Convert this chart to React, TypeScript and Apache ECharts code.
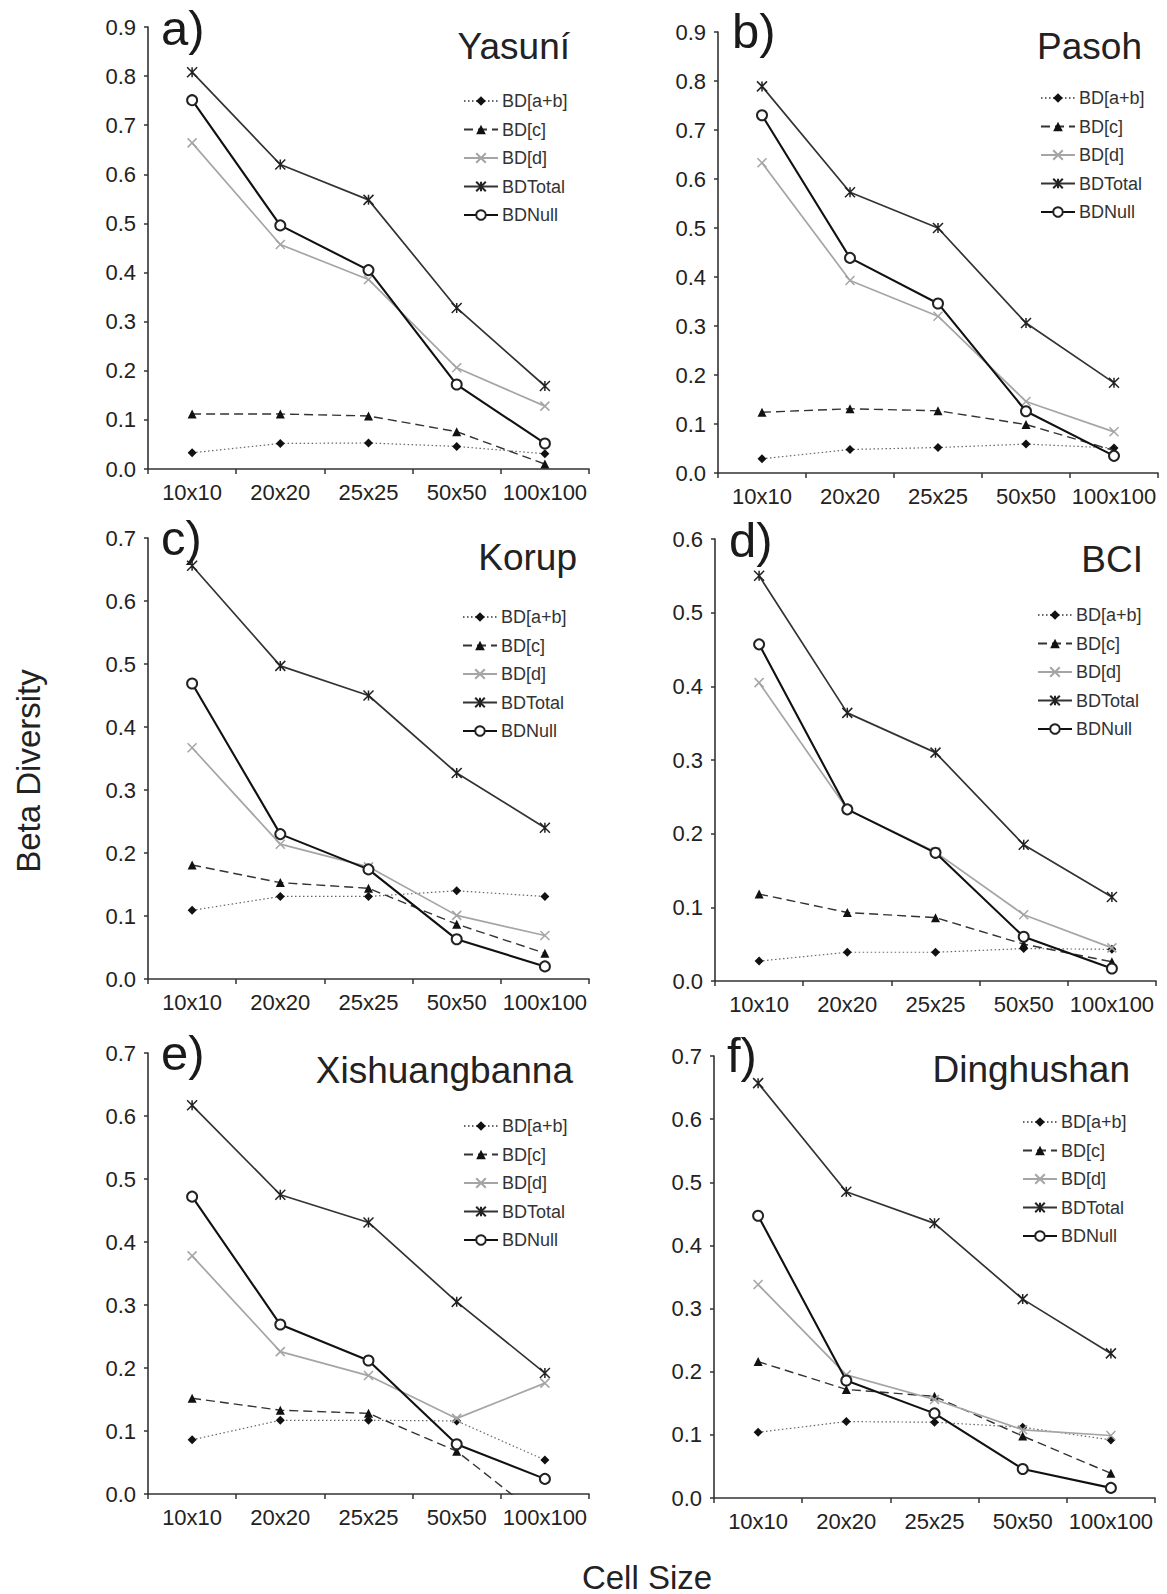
import React, { useEffect, useRef } from "react";
import * as echarts from "echarts";

// ---------- data ----------
const categories = ["10x10", "20x20", "25x25", "50x50", "100x100"];
const seriesNames = ["BD[a+b]", "BD[c]", "BD[d]", "BDTotal", "BDNull"];

const yasuniAB = [0.033, 0.052, 0.053, 0.046, 0.031];
const yasuniC = [0.112, 0.112, 0.108, 0.076, 0.01];
const yasuniD = [0.664, 0.457, 0.386, 0.206, 0.128];
const yasuniTotal = [0.808, 0.62, 0.548, 0.328, 0.169];
const yasuniNull = [0.751, 0.496, 0.405, 0.172, 0.052];

const pasohAB = [0.029, 0.048, 0.052, 0.059, 0.051];
const pasohC = [0.124, 0.131, 0.127, 0.099, 0.046];
const pasohD = [0.633, 0.393, 0.32, 0.146, 0.084];
const pasohTotal = [0.789, 0.573, 0.5, 0.306, 0.184];
const pasohNull = [0.73, 0.439, 0.346, 0.126, 0.035];

const korupAB = [0.109, 0.131, 0.131, 0.14, 0.131];
const korupC = [0.181, 0.153, 0.144, 0.087, 0.041];
const korupD = [0.367, 0.214, 0.178, 0.101, 0.069];
const korupTotal = [0.656, 0.497, 0.45, 0.327, 0.24];
const korupNull = [0.469, 0.23, 0.174, 0.063, 0.02];

const bciAB = [0.027, 0.039, 0.039, 0.044, 0.043];
const bciC = [0.118, 0.093, 0.086, 0.05, 0.026];
const bciD = [0.405, 0.233, 0.175, 0.09, 0.045];
const bciTotal = [0.55, 0.364, 0.31, 0.185, 0.114];
const bciNull = [0.457, 0.233, 0.174, 0.06, 0.017];

const xishAB = [0.086, 0.117, 0.117, 0.116, 0.054];
const xishC = [0.152, 0.133, 0.128, 0.068, -0.042];
const xishD = [0.378, 0.226, 0.188, 0.12, 0.176];
const xishTotal = [0.617, 0.475, 0.431, 0.305, 0.192];
const xishNull = [0.472, 0.269, 0.212, 0.079, 0.024];

const dingAB = [0.104, 0.121, 0.12, 0.112, 0.092];
const dingC = [0.216, 0.172, 0.161, 0.098, 0.039];
const dingD = [0.338, 0.195, 0.156, 0.108, 0.099];
const dingTotal = [0.657, 0.485, 0.435, 0.315, 0.229];
const dingNull = [0.447, 0.186, 0.134, 0.046, 0.016];

const panelTitles = ["Yasuní", "Pasoh", "Korup", "BCI", "Xishuangbanna", "Dinghushan"];
const panelLetters = ["a)", "b)", "c)", "d)", "e)", "f)"];
const panelMax = [0.9, 0.9, 0.7, 0.6, 0.7, 0.7];
const panelData = [
  [yasuniAB, yasuniC, yasuniD, yasuniTotal, yasuniNull],
  [pasohAB, pasohC, pasohD, pasohTotal, pasohNull],
  [korupAB, korupC, korupD, korupTotal, korupNull],
  [bciAB, bciC, bciD, bciTotal, bciNull],
  [xishAB, xishC, xishD, xishTotal, xishNull],
  [dingAB, dingC, dingD, dingTotal, dingNull],
];

// ---------- layout ----------
const layout = [
  { grid: { left: 148, top: 27, width: 441, height: 442 }, legend: [463, 92], letter: [161, 45], title: [570, 59] },
  { grid: { left: 718, top: 32, width: 440, height: 441 }, legend: [1040, 89], letter: [732, 48], title: [1142, 59] },
  { grid: { left: 148, top: 538, width: 441, height: 441 }, legend: [462, 608], letter: [161, 555], title: [577, 570] },
  { grid: { left: 715, top: 539, width: 441, height: 442 }, legend: [1037, 606], letter: [729, 557], title: [1143, 572] },
  { grid: { left: 148, top: 1053, width: 441, height: 441 }, legend: [463, 1117], letter: [161, 1070], title: [573, 1083] },
  { grid: { left: 714, top: 1056, width: 441, height: 442 }, legend: [1022, 1113], letter: [727, 1072], title: [1130, 1082] },
];

const FONT = "'Liberation Sans', Arial, Helvetica, sans-serif";
const AXIS_COLOR = "#333";
const X_PATH = "path://M0,0L10,10M10,0L0,10";
const STAR_PATH = "path://M0,0L10,10M10,0L0,10M5,0L5,10";

const seriesStyles = [
  {
    symbol: "diamond",
    symbolSize: 9,
    lineStyle: { color: "#666", width: 1.2, type: [1.5, 2.5] },
    itemStyle: { color: "#111" },
  },
  {
    symbol: "triangle",
    symbolSize: 9,
    lineStyle: { color: "#333", width: 1.4, type: [9, 5] },
    itemStyle: { color: "#111" },
  },
  {
    symbol: X_PATH,
    symbolSize: 9,
    lineStyle: { color: "#a5a5a5", width: 1.7 },
    itemStyle: { color: "#a5a5a5", borderColor: "#a5a5a5", borderWidth: 1.5 },
  },
  {
    symbol: STAR_PATH,
    symbolSize: 10,
    lineStyle: { color: "#333", width: 1.7 },
    itemStyle: { color: "#222", borderColor: "#222", borderWidth: 1.5 },
  },
  {
    symbol: "emptyCircle",
    symbolSize: 10,
    lineStyle: { color: "#111", width: 2.1 },
    itemStyle: { color: "#222", borderWidth: 1.5 },
  },
];

function buildOption() {
  const grid: any[] = [];
  const xAxis: any[] = [];
  const yAxis: any[] = [];
  const series: any[] = [];
  const legend: any[] = [];
  const graphic: any[] = [];

  layout.forEach((L, i) => {
    grid.push({ ...L.grid, containLabel: false });
    xAxis.push({
      type: "category",
      gridIndex: i,
      data: categories,
      boundaryGap: true,
      axisLine: { show: true, lineStyle: { color: AXIS_COLOR, width: 1.6 } },
      axisTick: { show: true, length: 5, lineStyle: { color: AXIS_COLOR, width: 1.5 } },
      axisLabel: { interval: 0, fontSize: 22, color: "#222", margin: 12, fontFamily: FONT },
      splitLine: { show: false },
    });
    yAxis.push({
      type: "value",
      gridIndex: i,
      min: 0,
      max: panelMax[i],
      interval: 0.1,
      axisLine: { show: true, lineStyle: { color: AXIS_COLOR, width: 1.6 } },
      axisTick: { show: true, length: 4, lineStyle: { color: AXIS_COLOR, width: 1.5 } },
      axisLabel: {
        fontSize: 22,
        color: "#222",
        margin: 12,
        fontFamily: FONT,
        formatter: (v: number) => v.toFixed(1),
      },
      splitLine: { show: false },
    });
    panelData[i].forEach((vals, k) => {
      const s = seriesStyles[k];
      series.push({
        type: "line",
        name: seriesNames[k],
        xAxisIndex: i,
        yAxisIndex: i,
        data: vals,
        symbol: s.symbol,
        symbolSize: s.symbolSize,
        lineStyle: s.lineStyle,
        itemStyle: s.itemStyle,
        clip: true,
        silent: true,
        z: k === 4 ? 5 : 2 + k * 0.1,
        emphasis: { disabled: true },
      });
    });
    legend.push({
      orient: "vertical",
      left: L.legend[0],
      top: L.legend[1],
      itemWidth: 34,
      itemHeight: 12,
      itemGap: 10.5,
      selectedMode: false,
      padding: 0,
      textStyle: { fontSize: 18, color: "#333", fontFamily: FONT, padding: [0, 0, 0, -1] },
      data: seriesNames,
    });
    graphic.push({
      type: "text",
      x: L.letter[0],
      y: L.letter[1] - 0.3465 * 49,
      style: {
        text: panelLetters[i],
        fontSize: 49,
        fontFamily: FONT,
        fill: "#1a1a1a",
        align: "left",
        textAlign: "left",
        verticalAlign: "middle",
        textVerticalAlign: "middle",
      },
    });
    graphic.push({
      type: "text",
      x: L.title[0],
      y: L.title[1] - 0.3465 * 37,
      style: {
        text: panelTitles[i],
        fontSize: 37,
        fontFamily: FONT,
        fill: "#222",
        align: "right",
        textAlign: "right",
        verticalAlign: "middle",
        textVerticalAlign: "middle",
      },
    });
  });

  graphic.push({
    type: "text",
    x: 28,
    y: 771,
    rotation: Math.PI / 2,
    style: {
      text: "Beta Diversity",
      fontSize: 33,
      fontFamily: FONT,
      fill: "#222",
      align: "center",
      textAlign: "center",
      verticalAlign: "middle",
      textVerticalAlign: "middle",
    },
  });
  graphic.push({
    type: "text",
    x: 647,
    y: 1577,
    style: {
      text: "Cell Size",
      fontSize: 33,
      fontFamily: FONT,
      fill: "#222",
      align: "center",
      textAlign: "center",
      verticalAlign: "middle",
      textVerticalAlign: "middle",
    },
  });

  return {
    animation: false,
    backgroundColor: "#ffffff",
    grid,
    xAxis,
    yAxis,
    series,
    legend,
    graphic,
  };
}

export default function App() {
  const ref = useRef<HTMLDivElement>(null);
  useEffect(() => {
    document.body.style.margin = "0";
    if (!ref.current) return;
    const chart = echarts.init(ref.current, undefined, { renderer: "svg" });
    chart.setOption(buildOption() as any);
    return () => chart.dispose();
  }, []);
  return <div ref={ref} style={{ width: 1167, height: 1594 }} />;
}
